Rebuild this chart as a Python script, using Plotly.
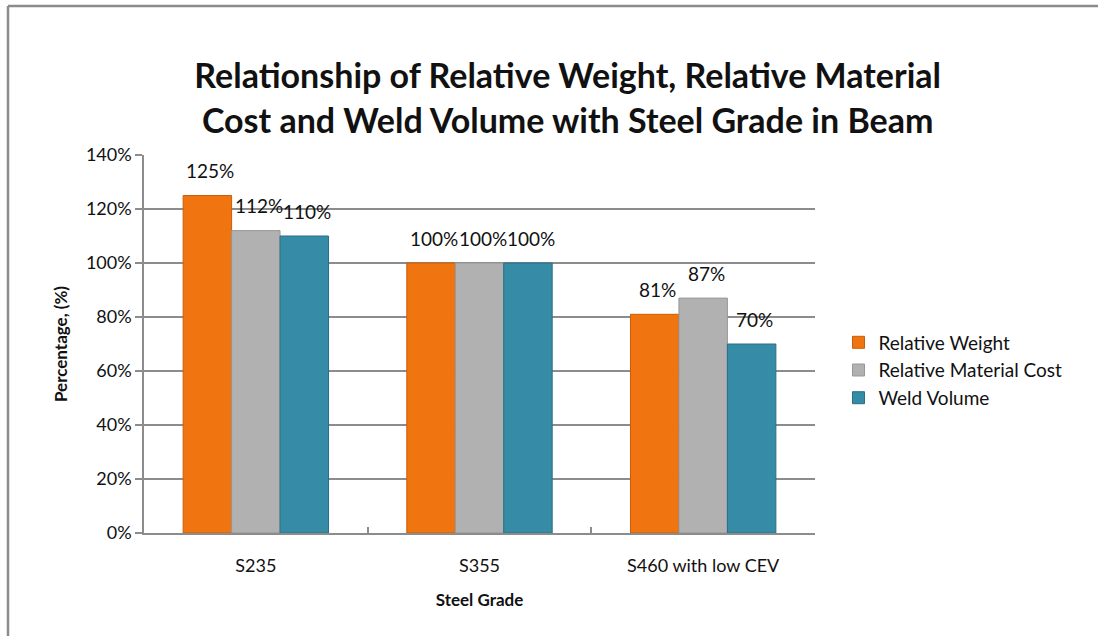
import plotly.graph_objects as go

categories = ["S235", "S355", "S460 with low CEV"]
series_names = ["Relative Weight", "Relative Material Cost", "Weld Volume"]
relative_weight = [125, 100, 81]
relative_material_cost = [112, 100, 87]
weld_volume = [110, 100, 70]
y_ticks = [0, 20, 40, 60, 80, 100, 120, 140]

series_values = [relative_weight, relative_material_cost, weld_volume]
colors = ["#F07511", "#B1B1B1", "#368BA6"]
line_colors = ["#C95E08", "#979797", "#2A6F86"]

FONT = "Lato"
W, H = 1098, 636
ML, MR, MT, MB = 144, 283, 155, 103
BARGAP = 0.35

fig = go.Figure()
for name, vals, c, lc in zip(series_names, series_values, colors, line_colors):
    fig.add_trace(go.Bar(
        x=categories, y=vals, name=name,
        marker=dict(color=c, line=dict(color=lc, width=1)),
        hoverinfo="x+y+name",
    ))

# data labels above each bar
plot_w = W - ML - MR
cat_px = plot_w / len(categories)
bar_px = cat_px * (1 - BARGAP) / len(series_names)
annotations = []
for i, vals in enumerate(series_values):
    off = (i - (len(series_names) - 1) / 2) * bar_px
    for cat, v in zip(categories, vals):
        annotations.append(dict(
            x=cat, y=v, xref="x", yref="y", text=f"{v}%", showarrow=False,
            xshift=off + 3, yshift=25, font=dict(family=FONT, size=19, color="#111111"),
        ))

fig.update_layout(
    width=W, height=H,
    margin=dict(l=ML, r=MR, t=MT, b=MB),
    paper_bgcolor="white", plot_bgcolor="white",
    barmode="group", bargap=BARGAP, bargroupgap=0,
    title=dict(
        text="Relationship of Relative Weight, Relative Material<br>Cost and Weld Volume with Steel Grade in Beam",
        x=0.517, xanchor="center", y=0.861, yanchor="middle",
        font=dict(family=FONT, size=34, color="#111111", weight="bold"),
    ),
    font=dict(family=FONT, size=18, color="#111111"),
    xaxis=dict(
        showline=True, linecolor="#8C8C8C", linewidth=2,
        ticks="inside", ticklen=6, tickcolor="#8C8C8C", tickwidth=1.5,
        tickson="boundaries", showgrid=False, ticklabelstandoff=15,
        tickfont=dict(family=FONT, size=18, color="#111111"),
        title=dict(text="Steel Grade", standoff=20,
                   font=dict(family=FONT, size=17, color="#111111", weight="bold")),
    ),
    yaxis=dict(
        range=[0, 140], tickvals=y_ticks, ticktext=[f"{t}%" for t in y_ticks],
        showline=True, linecolor="#8C8C8C", linewidth=1.5,
        ticks="outside", ticklen=7, tickcolor="#8C8C8C", tickwidth=1.5,
        showgrid=True, gridcolor="#8C8C8C", gridwidth=1.5, zeroline=False,
        tickfont=dict(family=FONT, size=18, color="#111111"),
        title=dict(text="Percentage, (%)", standoff=14,
                   font=dict(family=FONT, size=17, color="#111111", weight="bold")),
    ),
    legend=dict(
        x=1.035, xanchor="left", y=0.43, yanchor="middle",
        font=dict(family=FONT, size=19, color="#111111"),
        itemwidth=30, tracegroupgap=2, bgcolor="rgba(0,0,0,0)",
    ),
    annotations=annotations,
    shapes=[
        dict(type="line", xref="paper", yref="paper",
             x0=(8 - ML) / plot_w, x1=(W - ML) / plot_w,
             y0=(H - MB - 6) / (H - MT - MB), y1=(H - MB - 6) / (H - MT - MB),
             line=dict(color="#8C8C8C", width=2.5)),
        dict(type="line", xref="paper", yref="paper",
             x0=(8 - ML) / plot_w, x1=(8 - ML) / plot_w,
             y0=(H - MB - 6) / (H - MT - MB), y1=-MB / (H - MT - MB),
             line=dict(color="#8C8C8C", width=2.5)),
    ],
)

fig.write_html("out.html")
